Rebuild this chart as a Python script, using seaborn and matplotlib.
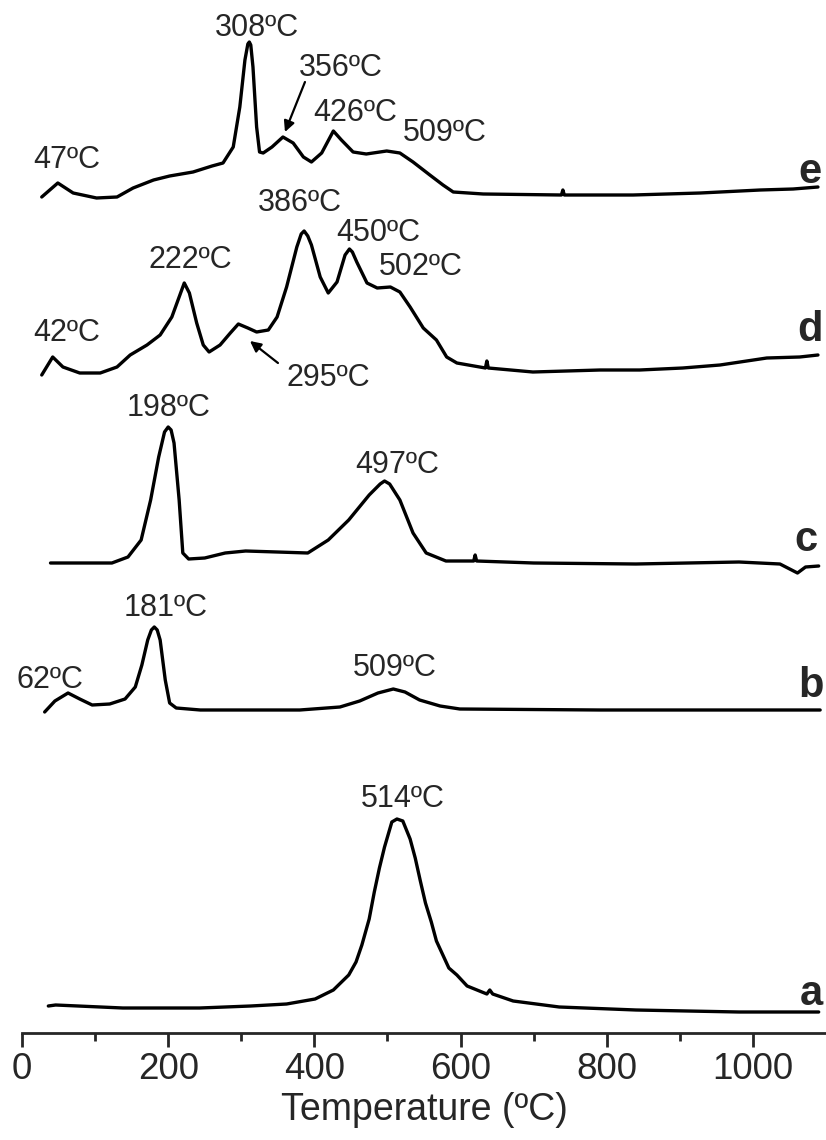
import numpy as np
import pandas as pd
import matplotlib
matplotlib.use("Agg")
import matplotlib.pyplot as plt
import seaborn as sns

sns.set_style("ticks")
plt.rcParams['font.family'] = ['Liberation Sans', 'DejaVu Sans']

# ---- data (temperature in ºC, signal in arbitrary stacked units) ----
temp_a = [36, 46, 138, 243, 313, 362, 401, 426, 447, 457, 465, 475, 482, 489, 496, 502, 506, 513, 521, 531, 538, 545, 552, 560, 567, 584, 595, 609, 636, 640, 644, 672, 735, 840, 981, 1090]
sig_a  = [11, 12, 9, 9, 11, 13, 18, 27, 42, 55, 72, 98, 125, 149, 170, 185, 195, 198, 196, 178, 159, 136, 114, 95, 76, 49, 42, 31, 23, 27, 23, 16, 10, 7, 5, 5]

temp_b = [31, 45, 63, 79, 96, 120, 141, 155, 164, 172, 177, 181, 185, 189, 196, 202, 211, 244, 380, 435, 462, 487, 508, 524, 544, 572, 599, 791, 1092]
sig_b  = [305, 316, 324, 318, 312, 313, 318, 330, 352, 377, 387, 390, 387, 377, 337, 314, 309, 307, 307, 310, 316, 324, 328, 325, 317, 311, 308, 307, 307]

temp_c = [39, 123, 145, 163, 176, 187, 195, 200, 204, 208, 215, 220, 228, 250, 278, 306, 349, 391, 419, 447, 475, 490, 496, 503, 517, 535, 553, 580, 618, 620, 622, 700, 840, 981, 1037, 1061, 1072, 1090]
sig_c  = [454, 454, 460, 477, 517, 560, 585, 590, 587, 574, 517, 464, 458, 459, 464, 466, 465, 464, 477, 497, 522, 533, 536, 533, 517, 484, 464, 456, 456, 462, 456, 454, 453, 455, 453, 444, 450, 451]

temp_d = [27, 42, 56, 79, 107, 130, 148, 171, 189, 205, 215, 222, 229, 239, 248, 256, 271, 285, 296, 309, 321, 337, 349, 362, 376, 382, 386, 391, 396, 408, 419, 431, 442, 448, 452, 458, 472, 486, 504, 517, 531, 549, 567, 581, 595, 634, 636, 638, 699, 791, 845, 904, 955, 1019, 1064, 1089]
sig_d  = [642, 660, 650, 644, 644, 650, 662, 672, 682, 700, 720, 734, 724, 694, 672, 665, 672, 684, 693, 689, 685, 687, 700, 730, 770, 783, 786, 781, 772, 740, 724, 735, 762, 768, 765, 755, 734, 729, 730, 725, 710, 689, 677, 660, 654, 649, 656, 649, 645, 647, 647, 649, 652, 659, 660, 662]

temp_e = [27, 49, 70, 102, 130, 152, 180, 202, 234, 260, 275, 289, 298, 305, 309, 311, 313, 316, 321, 325, 330, 342, 357, 371, 385, 396, 410, 426, 437, 453, 471, 499, 517, 535, 558, 576, 590, 631, 738, 740, 742, 836, 928, 1010, 1055, 1089]
sig_e  = [820, 834, 824, 819, 820, 829, 837, 841, 845, 851, 854, 870, 910, 957, 973, 975, 972, 950, 890, 865, 864, 870, 880, 874, 860, 855, 864, 886, 877, 865, 863, 866, 864, 855, 842, 832, 825, 823, 822, 827, 822, 822, 824, 827, 828, 830]

series_names = ["a", "b", "c", "d", "e"]
peak_labels = ["514ºC", "62ºC", "181ºC", "509ºC", "198ºC", "497ºC",
               "42ºC", "222ºC", "295ºC", "386ºC", "450ºC", "502ºC",
               "47ºC", "308ºC", "356ºC", "426ºC", "509ºC"]
x_ticks = [0, 200, 400, 600, 800, 1000]
x_label = "Temperature (ºC)"

frames = []
for name, t, s in zip(series_names,
                      [temp_a, temp_b, temp_c, temp_d, temp_e],
                      [sig_a, sig_b, sig_c, sig_d, sig_e]):
    frames.append(pd.DataFrame({"T": t, "S": s, "sample": name}))
df = pd.concat(frames, ignore_index=True)

W, H = 826, 1140
fig = plt.figure(figsize=(W / 100, H / 100), dpi=100)
top_ref = 1017          # signal value at the top edge of the axes
axis_px = 1033          # pixel row of the x axis line
ax = fig.add_axes([22 / W, (H - axis_px) / H, (W - 22) / W, axis_px / H])

for name in series_names:
    sub = df[df["sample"] == name]
    sns.lineplot(data=sub, x="T", y="S", ax=ax, color="black", lw=2.4,
                 sort=False, estimator=None, legend=False)

ax.set_xlim(0, 1100)
ax.set_ylim(top_ref - axis_px, top_ref)

def px2data(px, py):
    return (px - 22) / 0.731, top_ref - py

# peak labels (pixel positions of text centres)
label_pos = [(403, 799), (50, 680), (166, 608), (395, 668), (169, 408), (397, 465),
             (67, 333), (190, 260), (328, 378), (300, 203), (378, 233), (421, 267),
             (67, 160), (257, 28), (341, 68), (355, 113), (445, 133)]
for txt, (px, py) in zip(peak_labels, label_pos):
    x, y = px2data(px, py)
    ax.text(x, y, txt, ha="center", va="center", fontsize=22)

# arrows
for (sx, sy), (ex, ey) in [((305, 82), (285, 132)), ((278, 363), (250, 341))]:
    ax.annotate("", xy=px2data(ex, ey), xytext=px2data(sx, sy),
                arrowprops=dict(arrowstyle="-|>", color="black", lw=1.6,
                                mutation_scale=16, shrinkA=0, shrinkB=0))

# sample letters
for name, (px, py) in zip(series_names, [(811, 994), (811, 686), (806, 540), (810, 330), (810, 172)]):
    x, y = px2data(px, py)
    ax.text(x, y, name, ha="center", va="center", fontsize=30, fontweight="bold")

sns.despine(ax=ax, left=True, top=True, right=True)
ax.spines["bottom"].set_linewidth(2.0)
ax.set_yticks([])
ax.set_ylabel("")
ax.set_xticks(x_ticks)
ax.set_xticks(np.arange(100, 1100, 200), minor=True)
ax.tick_params(axis="x", which="major", length=10, width=2.0, labelsize=26.5, pad=3.5, direction="out")
ax.tick_params(axis="x", which="minor", length=6, width=2.0, direction="out")
ax.set_xlabel(x_label, fontsize=27, labelpad=4)
ax.patch.set_alpha(0)

fig.savefig("out.png", dpi=100)
